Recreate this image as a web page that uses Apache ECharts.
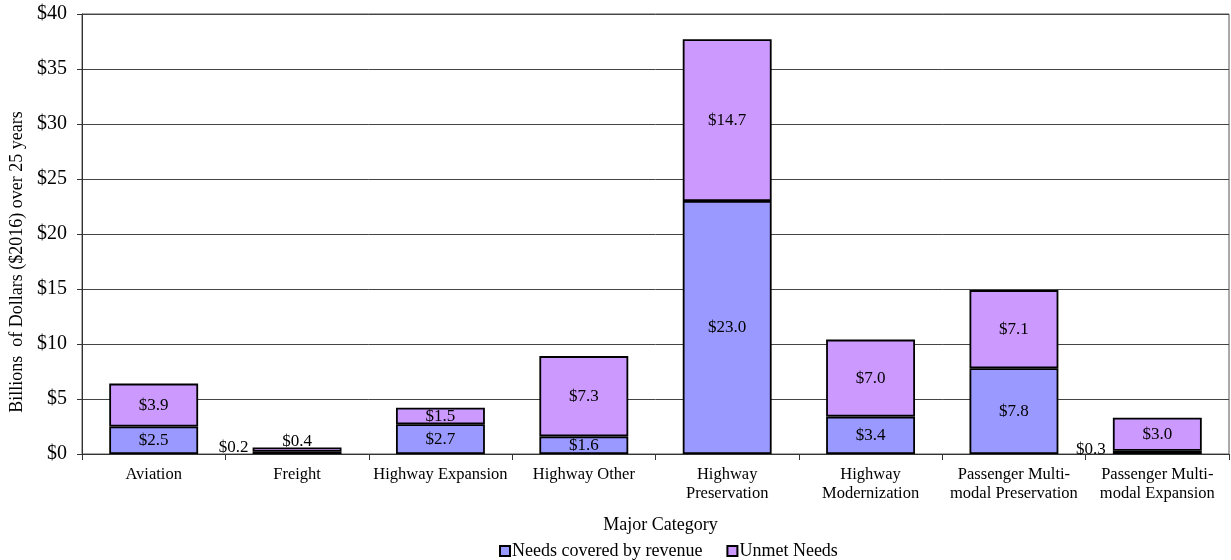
<!DOCTYPE html>
<html>
<head>
<meta charset="utf-8">
<script src="https://cdn.jsdelivr.net/npm/echarts@6/dist/echarts.min.js"></script>
<style>html,body{margin:0;padding:0;background:#fff}#c{width:1231px;height:560px}</style>
</head>
<body>
<div id="c"></div>
<script>
const categories = ['Aviation', 'Freight', 'Highway Expansion', 'Highway Other', 'Highway\nPreservation', 'Highway\nModernization', 'Passenger Multi-\nmodal Preservation', 'Passenger Multi-\nmodal Expansion'];
const coveredByRevenue = [2.5, 0.2, 2.7, 1.6, 23.0, 3.4, 7.8, 0.3];
const unmetNeeds = [3.9, 0.4, 1.5, 7.3, 14.7, 7.0, 7.1, 3.0];
const seriesNames = ['Needs covered by revenue', 'Unmet Needs'];
const yTicks = [0, 5, 10, 15, 20, 25, 30, 35, 40];

const FONT = '"Liberation Serif", "Times New Roman", serif';
const fmt = v => '$' + Number(v).toFixed(1);

function buildData(vals, smallPos) {
  return vals.map((v, i) => {
    if (v < 0.5) {
      if (smallPos === 'left') {
        return { value: v, label: { position: 'left', distance: i > 4 ? 7 : 4, offset: [0, i > 4 ? -3 : -5] } };
      }
      return { value: v, label: { position: 'top', distance: 0, offset: [0, 3] } };
    }
    return v;
  });
}

const chart = echarts.init(document.getElementById('c'), null, { renderer: 'canvas' });
chart.setOption({
  animation: false,
  backgroundColor: '#fff',
  textStyle: { fontFamily: FONT, color: '#000' },
  grid: { left: 82, right: 2, top: 14, bottom: 106, show: true, borderColor: '#555', borderWidth: 1 },
  legend: {
    top: 537, left: 494,
    itemWidth: 10, itemHeight: 10, itemGap: 24,
    icon: 'rect',
    textStyle: { fontFamily: FONT, fontSize: 18, color: '#000', padding: [0, 0, 0, -3] },
    data: seriesNames
  },
  xAxis: {
    type: 'category',
    data: categories,
    name: 'Major Category',
    nameLocation: 'middle',
    nameGap: 62,
    nameTextStyle: { fontFamily: FONT, fontSize: 18, color: '#000', padding: [0, 0, 0, 10] },
    axisLine: { lineStyle: { color: '#333', width: 1 } },
    axisTick: { show: true, length: 6, lineStyle: { color: '#333' } },
    axisLabel: { fontFamily: FONT, fontSize: 16.5, color: '#000', margin: 11, lineHeight: 19, interval: 0 }
  },
  yAxis: {
    type: 'value',
    min: 0, max: 40, interval: 5,
    name: 'Billions  of Dollars ($2016) over 25 years',
    nameLocation: 'middle',
    nameGap: 52,
    nameTextStyle: { fontFamily: FONT, fontSize: 18, color: '#000', padding: [0, 56, 0, 0] },
    axisLine: { show: true, lineStyle: { color: '#333', width: 1 } },
    axisTick: { show: true, length: 5, lineStyle: { color: '#333' } },
    splitLine: { lineStyle: { color: '#444', width: 1 } },
    axisLabel: { fontFamily: FONT, fontSize: 20, color: '#000', margin: 15, formatter: v => yTicks.includes(v) ? '$' + v : '' }
  },
  series: [
    {
      name: seriesNames[0], type: 'bar', stack: 'total', barWidth: '62%',
      itemStyle: { color: '#9999FF', borderColor: '#000', borderWidth: 1.8 },
      label: { show: true, position: 'inside', formatter: p => fmt(p.value), fontFamily: FONT, fontSize: 17, color: '#000' },
      data: buildData(coveredByRevenue, 'left')
    },
    {
      name: seriesNames[1], type: 'bar', stack: 'total', barWidth: '62%',
      itemStyle: { color: '#CC99FF', borderColor: '#000', borderWidth: 1.8 },
      label: { show: true, position: 'inside', formatter: p => fmt(p.value), fontFamily: FONT, fontSize: 17, color: '#000' },
      data: buildData(unmetNeeds, 'top')
    }
  ]
});
</script>
</body>
</html>
